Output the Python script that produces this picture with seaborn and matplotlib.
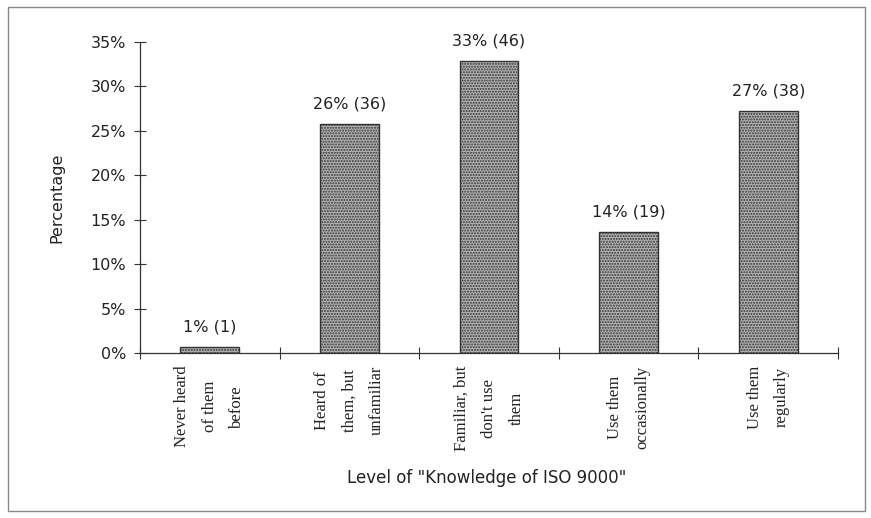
import matplotlib
matplotlib.use("Agg")
import matplotlib.pyplot as plt
import seaborn as sns
import pandas as pd
from matplotlib.patches import Rectangle

categories = ["Never heard\nof them\nbefore", "Heard of\nthem, but\nunfamiliar",
              "Familiar, but\ndon't use\nthem", "Use them\noccasionally", "Use them\nregularly"]
percent = [0.7, 25.8, 32.9, 13.6, 27.2]
counts = [1, 36, 46, 19, 38]
bar_labels = ["1% (1)", "26% (36)", "33% (46)", "14% (19)", "27% (38)"]
yticks = [0, 5, 10, 15, 20, 25, 30, 35]

sns.set_theme(style="white")
plt.rcParams["hatch.color"] = "#444444"
plt.rcParams["hatch.linewidth"] = 1.0

df = pd.DataFrame({"cat": categories, "pct": percent})

fig = plt.figure(figsize=(8.71, 5.18), dpi=100)
ax = fig.add_axes([140/871, 1-353/518, (838-140)/871, (353-42)/518])

sns.barplot(data=df, x="cat", y="pct", ax=ax, width=0.42, color="#b4b4b4",
            edgecolor="#333333", linewidth=1.0, saturation=1)
for p in ax.patches:
    p.set_hatch("......")

for p, lab in zip(ax.patches, bar_labels):
    ax.annotate(lab, (p.get_x() + p.get_width()/2, p.get_height()),
                xytext=(0, 9), textcoords="offset points", ha="center", va="bottom",
                fontsize=11.5, color="#222222", family="DejaVu Sans")

ax.set_xlim(-0.5, 4.5)
ax.set_ylim(0, 35)
ax.set_yticks(yticks)
ax.set_yticklabels([f"{v}%" for v in yticks], fontsize=11.5, color="#222222")
ax.set_xticks(range(len(categories)))
ax.set_xticklabels([])
ax.tick_params(axis="x", which="major", length=0)
ax.set_xticks([i - 0.5 for i in range(len(categories) + 1)], minor=True)
ax.tick_params(axis="x", which="minor", direction="inout", length=8, width=0.8, color="#333333", bottom=True)
ax.tick_params(axis="y", direction="inout", length=8, width=0.8, color="#333333", left=True, pad=6)

for i, c in enumerate(categories):
    ax.text(i, -0.04, c, transform=ax.get_xaxis_transform(), rotation=90,
            ha="center", va="top", multialignment="center", linespacing=1.95,
            fontsize=12, family="Liberation Serif", color="#222222")

for s in ["top", "right"]:
    ax.spines[s].set_visible(False)
for s in ["left", "bottom"]:
    ax.spines[s].set_color("#333333")
    ax.spines[s].set_linewidth(0.9)

ax.set_xlabel("")
ax.set_ylabel("Percentage", fontsize=11.5, color="#222222")
ax.yaxis.set_label_coords(-(140-64)/698, 0.5)
fig.text(487/871, 1-478/518, 'Level of "Knowledge of ISO 9000"', ha="center", va="center",
         fontsize=12, color="#222222")

fig.patches.append(Rectangle((8/871, 1-511/518), (865-8)/871, (511-7)/518, transform=fig.transFigure,
                             fill=False, edgecolor="#888888", linewidth=1.0))

fig.savefig("out.png", dpi=100)
